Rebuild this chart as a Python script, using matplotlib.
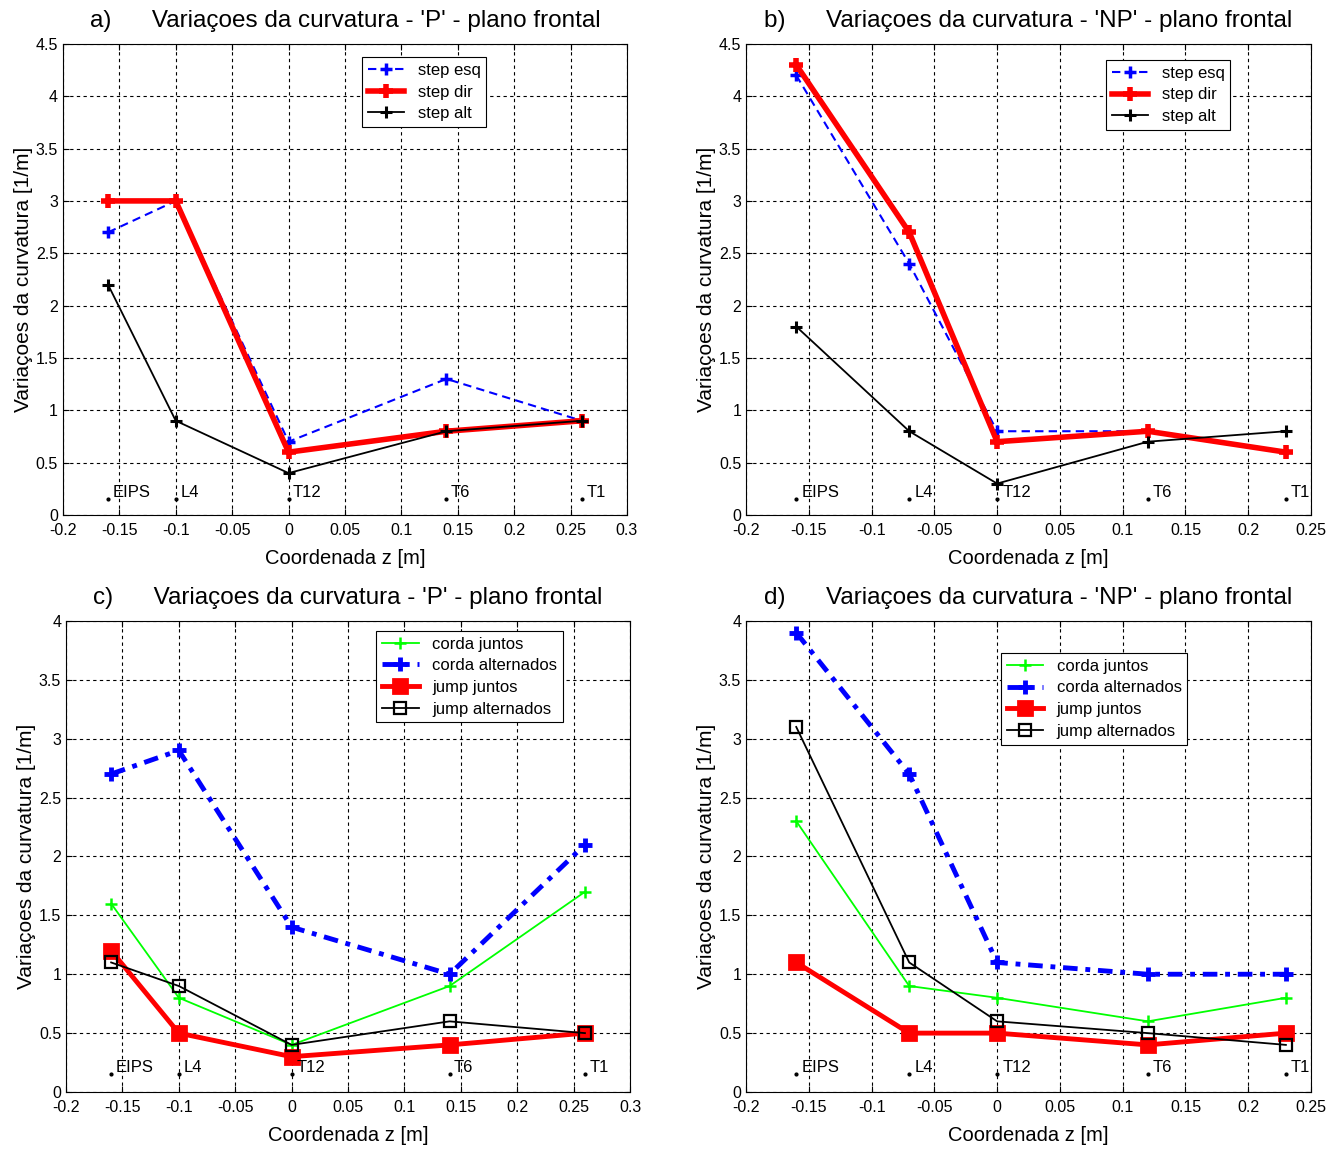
import matplotlib
matplotlib.use('Agg')
import matplotlib.pyplot as plt
from matplotlib.ticker import FuncFormatter, MultipleLocator

plt.rcParams['font.family'] = ['Liberation Sans', 'DejaVu Sans']

# landmarks along the spine
marcos = ['EIPS', 'L4', 'T12', 'T6', 'T1']
marco_y = 0.15

# a) step, 'P'
z_p = [-0.16, -0.1, 0, 0.14, 0.26]
a_step_esq = [2.7, 3.0, 0.7, 1.3, 0.9]
a_step_dir = [3.0, 3.0, 0.6, 0.8, 0.9]
a_step_alt = [2.2, 0.9, 0.4, 0.8, 0.9]

# b) step, 'NP'
z_np = [-0.16, -0.07, 0, 0.12, 0.23]
b_step_esq = [4.2, 2.4, 0.8, 0.8, 0.6]
b_step_dir = [4.3, 2.7, 0.7, 0.8, 0.6]
b_step_alt = [1.8, 0.8, 0.3, 0.7, 0.8]

# c) corda / jump, 'P'
c_corda_juntos = [1.6, 0.8, 0.4, 0.9, 1.7]
c_corda_alt = [2.7, 2.9, 1.4, 1.0, 2.1]
c_jump_juntos = [1.2, 0.5, 0.3, 0.4, 0.5]
c_jump_alt = [1.1, 0.9, 0.4, 0.6, 0.5]

# d) corda / jump, 'NP'
d_corda_juntos = [2.3, 0.9, 0.8, 0.6, 0.8]
d_corda_alt = [3.9, 2.7, 1.1, 1.0, 1.0]
d_jump_juntos = [1.1, 0.5, 0.5, 0.4, 0.5]
d_jump_alt = [3.1, 1.1, 0.6, 0.5, 0.4]

fmt = FuncFormatter(lambda v, p: '%g' % round(v, 3))


def setup(ax, title, xmax, ymax, z):
    ax.set_xlim(-0.2, xmax)
    ax.set_ylim(0, ymax)
    ax.xaxis.set_major_locator(MultipleLocator(0.05))
    ax.yaxis.set_major_locator(MultipleLocator(0.5))
    ax.xaxis.set_major_formatter(fmt)
    ax.yaxis.set_major_formatter(fmt)
    ax.tick_params(direction='in', top=True, right=True, labelsize=11.5, length=4)
    ax.tick_params(axis='x', pad=6)
    ax.grid(True, color='black', linestyle=(0, (3, 3)), linewidth=0.8)
    ax.set_axisbelow(True)
    for s in ax.spines.values():
        s.set_linewidth(0.8)
    ax.set_title(title, fontsize=17.5, pad=12)
    ax.set_xlabel('Coordenada z [m]', fontsize=14.5, labelpad=8)
    ax.set_ylabel('Variaçoes da curvatura [1/m]', fontsize=15, labelpad=2)
    ax.plot(z, [marco_y] * len(z), '.', color='black', markersize=4, zorder=5)
    for zi, m in zip(z, marcos):
        ax.text(zi + 0.004, marco_y + 0.06, m, fontsize=12, va='center', ha='left')


def add_legend(ax, anchor):
    leg = ax.legend(loc='upper left', bbox_to_anchor=anchor, fontsize=12,
                    fancybox=False, framealpha=1, edgecolor='black',
                    handlelength=2.2, borderpad=0.35, labelspacing=0.4, borderaxespad=0)
    leg.get_frame().set_linewidth(0.8)


def plot_step(ax, z, esq, dirr, alt, anchor):
    ax.plot(z, esq, color='#0000ff', linestyle=(0, (4, 2.5)), linewidth=1.5,
            marker='+', markersize=9, markeredgewidth=2.5, label='step esq')
    ax.plot(z, dirr, color='#ff0000', linewidth=4, marker='+', markersize=10,
            markeredgewidth=4, label='step dir')
    ax.plot(z, alt, color='black', linewidth=1.3, marker='+', markersize=9,
            markeredgewidth=2.2, label='step alt')
    add_legend(ax, anchor)


def plot_jump(ax, z, cj, ca, jj, ja, anchor):
    ax.plot(z, cj, color='#00ff00', linewidth=1.3, marker='+', markersize=9,
            markeredgewidth=1.8, label='corda juntos')
    ax.plot(z, ca, color='#0000ff', linestyle=(0, (3, 1.6, 1, 1.6)), linewidth=3.5,
            marker='+', markersize=10, markeredgewidth=3.5, label='corda alternados')
    ax.plot(z, jj, color='#ff0000', linewidth=3.5, marker='s', markersize=10,
            markerfacecolor='#ff0000', markeredgewidth=2, label='jump juntos')
    ax.plot(z, ja, color='black', linewidth=1.3, marker='s', markersize=9,
            markerfacecolor='none', markeredgewidth=1.6, label='jump alternados')
    add_legend(ax, anchor)


fig = plt.figure(figsize=(13.42, 11.49), dpi=100)
ax_a = fig.add_axes([0.0469, 0.5518, 0.4203, 0.41])
ax_b = fig.add_axes([0.5559, 0.5518, 0.4210, 0.41])
ax_c = fig.add_axes([0.0492, 0.0496, 0.4203, 0.41])
ax_d = fig.add_axes([0.5559, 0.0496, 0.4210, 0.41])

setup(ax_a, "a)      Variaçoes da curvatura - 'P' - plano frontal", 0.3, 4.5, z_p)
plot_step(ax_a, z_p, a_step_esq, a_step_dir, a_step_alt, (0.53, 0.972))

setup(ax_b, "b)      Variaçoes da curvatura - 'NP' - plano frontal", 0.25, 4.5, z_np)
plot_step(ax_b, z_np, b_step_esq, b_step_dir, b_step_alt, (0.637, 0.966))

setup(ax_c, "c)      Variaçoes da curvatura - 'P' - plano frontal", 0.3, 4, z_p)
plot_jump(ax_c, z_p, c_corda_juntos, c_corda_alt, c_jump_juntos, c_jump_alt, (0.55, 0.979))

setup(ax_d, "d)      Variaçoes da curvatura - 'NP' - plano frontal", 0.25, 4, z_np)
plot_jump(ax_d, z_np, d_corda_juntos, d_corda_alt, d_jump_juntos, d_jump_alt, (0.451, 0.932))

fig.savefig('out.png', dpi=100)
